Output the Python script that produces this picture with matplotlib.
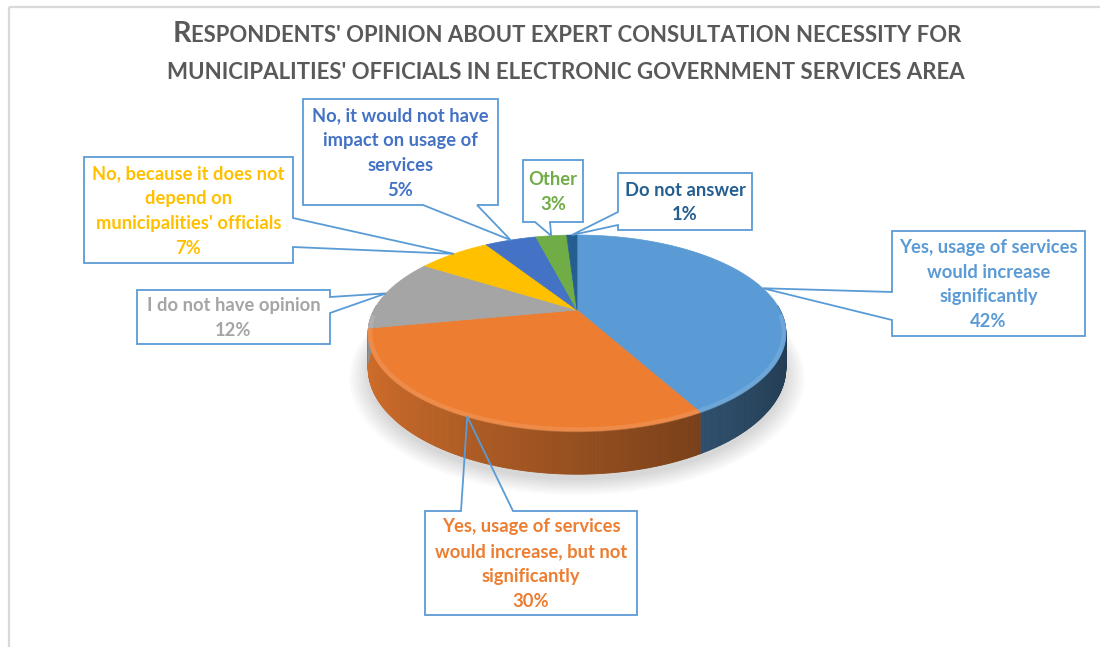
import numpy as np
import matplotlib
matplotlib.use("Agg")
import matplotlib.pyplot as plt
from matplotlib.patches import Polygon
from matplotlib.collections import PolyCollection
from matplotlib.colors import to_rgb

W, H = 1100, 647

# answers, going clockwise from 12 o'clock
labels = ["Yes, usage of services\nwould increase\nsignificantly",
          "Yes, usage of services\nwould increase, but not\nsignificantly",
          "I do not have opinion",
          "No, because it does not\ndepend on\nmunicipalities' officials",
          "No, it would not have\nimpact on usage of\nservices",
          "Other",
          "Do not answer"]
shares = [42, 30, 12, 7, 5, 3, 1]
colors = ["#5B9BD5", "#ED7D31", "#A5A5A5", "#FFC000", "#4472C4", "#70AD47", "#255E91"]

title_1 = ("R", "ESPONDENTS' OPINION ABOUT EXPERT CONSULTATION NECESSITY FOR")
title_2 = "MUNICIPALITIES' OFFICIALS IN ELECTRONIC GOVERNMENT SERVICES AREA"

# callout boxes: (x0, y0, x1, y1), side of the pointer, pointer base along that side
boxes = [((892, 231, 1085, 336), "left", (292, 320)),
         ((425, 511, 637, 615), "top", (461, 513)),
         ((137, 290, 330, 344), "right", (297, 313)),
         ((84, 157, 293, 263), "right", (218, 247)),
         ((303, 99, 498, 205), "bottom", (423, 477)),
         ((523, 160, 583, 222), "bottom", (535, 550)),
         ((618, 173, 752, 230), "left", (212, 225))]

# pie projection (pixels)
CX, CY = 577, 310
RA, RB = 203, 92.6
PERSP = 0.235
DEPTH = 33

FONT = ["Lato", "DejaVu Sans"]


def proj(phi, r=1.0, z=0.0):
    u = r * np.cos(phi)
    v = r * np.sin(phi)
    w = 1 + PERSP * v
    return CX + RA * u / w, CY - RB * v / w + DEPTH * z / w


def shade(c, f):
    return tuple(np.clip(np.array(to_rgb(c)) * f, 0, 1))


def lighten(c, f):
    c = np.array(to_rgb(c))
    return tuple(c + (1 - c) * f)


fig = plt.figure(figsize=(W / 100, H / 100), dpi=100)
ax = fig.add_axes([0, 0, 1, 1])
ax.set_xlim(0, W)
ax.set_ylim(H, 0)
ax.axis("off")

# frame lines at left and top
ax.plot([9, 9], [7, H], color="#d9d9d9", lw=1.6, solid_capstyle="butt")
ax.plot([9, W], [7, 7], color="#d9d9d9", lw=1.6, solid_capstyle="butt")

# slice angles (math convention), clockwise from the top
fr = np.cumsum([0] + shares) / sum(shares)
starts = np.pi / 2 - 2 * np.pi * fr[:-1]
ends = np.pi / 2 - 2 * np.pi * fr[1:]

# soft shadow under the pie
for i in range(8):
    sx, sy = proj(np.linspace(0, 2 * np.pi, 200), 1.0 + 0.012 * i, 1.0)
    ax.fill(sx, np.array(sy) + 6, color="#000000", alpha=0.018, lw=0, zorder=1)

# side wall, shaded darker towards the right
quads, qcols = [], []
for s, e, c in zip(starts, ends, colors):
    n = max(2, int(abs(e - s) / np.radians(0.5)))
    ph = np.linspace(s, e, n + 1)
    for a0, a1 in zip(ph[:-1], ph[1:]):
        if np.sin((a0 + a1) / 2) > 0.05:
            continue
        x0, y0 = proj(a0)
        x1, y1 = proj(a1)
        x2, y2 = proj(a1, z=1)
        x3, y3 = proj(a0, z=1)
        quads.append([(x0, y0), (x1, y1), (x2, y2), (x3, y3)])
        um = np.cos((a0 + a1) / 2)
        qcols.append(shade(c, 0.63 - 0.25 * um))
ax.add_collection(PolyCollection(quads, facecolors=qcols, edgecolors=qcols,
                                 linewidths=0.6, zorder=2))

# top face
for s, e, c in zip(starts, ends, colors):
    ph = np.linspace(s, e, max(3, int(abs(e - s) / np.radians(0.5))))
    px, py = proj(ph)
    verts = [(CX, CY)] + list(zip(px, py))
    ax.add_patch(Polygon(verts, closed=True, facecolor=c, edgecolor=c,
                         lw=0.5, zorder=3))
    # rounded-edge highlight along the front rim
    front = ph[np.sin(ph) < -0.05]
    if len(front) > 1:
        bx, by = proj(front, 0.992)
        ax.plot(bx, by, color=lighten(c, 0.3), lw=3.5, alpha=0.38, zorder=4,
                solid_capstyle="butt")

# callouts
mids = (starts + ends) / 2
for (box, side, base), lab, val, c, m in zip(boxes, labels, shares, colors, mids):
    x0, y0, x1, y1 = box
    tip = proj(m)
    b0, b1 = base
    pts = [(x0, y0)]
    if side == "top":
        pts += [(b0, y0), tip, (b1, y0)]
    pts.append((x1, y0))
    if side == "right":
        pts += [(x1, b0), tip, (x1, b1)]
    pts.append((x1, y1))
    if side == "bottom":
        pts += [(b1, y1), tip, (b0, y1)]
    pts.append((x0, y1))
    if side == "left":
        pts += [(x0, b1), tip, (x0, b0)]
    ax.add_patch(Polygon(pts, closed=True, facecolor="none",
                         edgecolor="#5B9BD5", lw=1.3, zorder=6))
    ax.text((x0 + x1) / 2, (y0 + y1) / 2 + 1, f"{lab}\n{val}%", color=c,
            fontsize=13.2, fontweight="bold", family=FONT, ha="center",
            va="center", multialignment="center", linespacing=1.55, zorder=7)

# title in small caps
TCOL = "#595959"
fig.canvas.draw()
rend = fig.canvas.get_renderer()


def centred(parts, y, cx):
    ts = [ax.text(0, y, s, fontsize=sz, fontweight="bold", family=FONT,
                  color=TCOL, ha="left", va="baseline") for s, sz in parts]
    ws = [t.get_window_extent(rend).width for t in ts]
    x = cx - sum(ws) / 2
    for t, w in zip(ts, ws):
        t.set_x(x)
        x += w


centred([(title_1[0], 20.8), (title_1[1], 15.9)], 42, 567)
centred([(title_2, 16.0)], 79, 566)

fig.savefig("out.png", dpi=100, facecolor="white")
